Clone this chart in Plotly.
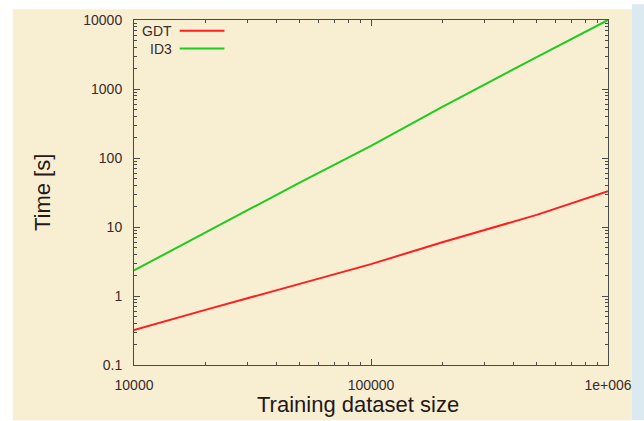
import plotly.graph_objects as go

# Data
sizes = [10000, 20000, 50000, 100000, 200000, 500000, 1000000]
gdt_time = [0.32, 0.63, 1.5, 2.9, 6.0, 15, 33]
id3_time = [2.35, 8.3, 44, 150, 550, 2900, 10000]

y_tickvals = [0.1, 1, 10, 100, 1000, 10000]
y_ticktext = ["0.1", "1", "10", "100", "1000", "10000"]
x_tickvals = [10000, 100000, 1000000]
x_ticktext = ["10000", "100000", "1e+006"]

series_names = ["GDT", "ID3"]
series_colors = ["#ff1e1e", "#1ecb1e"]

CREAM = "#f8efd3"
AXIS = "#4a4a4a"
TXT = "#3a2a2a"
FONT = "Liberation Sans, Arial, sans-serif"

fig = go.Figure()
for name, ys, col in zip(series_names, [gdt_time, id3_time], series_colors):
    fig.add_trace(go.Scatter(x=sizes, y=ys, mode="lines", name=name,
                             line=dict(color=col, width=2), showlegend=False))

axis_common = dict(
    type="log", showgrid=False, zeroline=False, showline=True, linecolor=AXIS,
    linewidth=1, mirror="allticks", ticks="inside", ticklen=6, tickcolor=AXIS,
    tickwidth=1, tickfont=dict(family=FONT, size=14, color=TXT),
    minor=dict(ticks="inside", ticklen=3, tickcolor=AXIS, dtick="D1", showgrid=False),
)

fig.update_layout(
    width=644, height=421,
    margin=dict(l=134, r=33, t=15, b=56),
    paper_bgcolor="white", plot_bgcolor=CREAM,
    xaxis=dict(range=[4, 6], tickvals=x_tickvals, ticktext=x_ticktext,
               ticklabelstandoff=7, **axis_common),
    yaxis=dict(range=[-1, 4], tickvals=y_tickvals, ticktext=y_ticktext,
               ticklabelstandoff=8, **axis_common),
    shapes=[
        dict(type="rect", xref="paper", yref="paper", layer="below",
             x0=-122 / 477, x1=501 / 477, y0=-56 / 350, y1=361 / 350,
             fillcolor=CREAM, line=dict(width=0)),
        dict(type="rect", xref="paper", yref="paper", layer="below",
             x0=501 / 477, x1=520 / 477, y0=-56 / 350, y1=366 / 350,
             fillcolor="#dbe9f1", line=dict(width=0)),
        # legend samples
        dict(type="line", xref="paper", yref="paper", x0=46 / 477, x1=91 / 477,
             y0=(365 - 26) / 350, y1=(365 - 26) / 350,
             line=dict(color=series_colors[0], width=2)),
        dict(type="line", xref="paper", yref="paper", x0=46 / 477, x1=91 / 477,
             y0=(365 - 44) / 350, y1=(365 - 44) / 350,
             line=dict(color=series_colors[1], width=2)),
    ],
    annotations=[
        dict(text=series_names[0], xref="paper", yref="paper", x=40 / 477,
             y=(365 - 26) / 350, xanchor="right", yanchor="middle", showarrow=False,
             font=dict(family=FONT, size=14, color=TXT)),
        dict(text=series_names[1], xref="paper", yref="paper", x=40 / 477,
             y=(365 - 44) / 350, xanchor="right", yanchor="middle", showarrow=False,
             font=dict(family=FONT, size=14, color=TXT)),
        dict(text="Time [s]", xref="paper", yref="paper", x=-92 / 477,
             y=(365 - 190) / 350, xanchor="center", yanchor="middle", textangle=-90,
             showarrow=False, font=dict(family=FONT, size=22, color="#241818")),
        dict(text="Training dataset size", xref="paper", yref="paper", x=225 / 477,
             y=-40 / 350, xanchor="center", yanchor="middle",
             showarrow=False, font=dict(family=FONT, size=22, color="#241818")),
    ],
)

fig.write_html("out.html", config={"displayModeBar": False},
               post_script="document.body.style.margin='0';document.body.style.overflow='hidden';")
